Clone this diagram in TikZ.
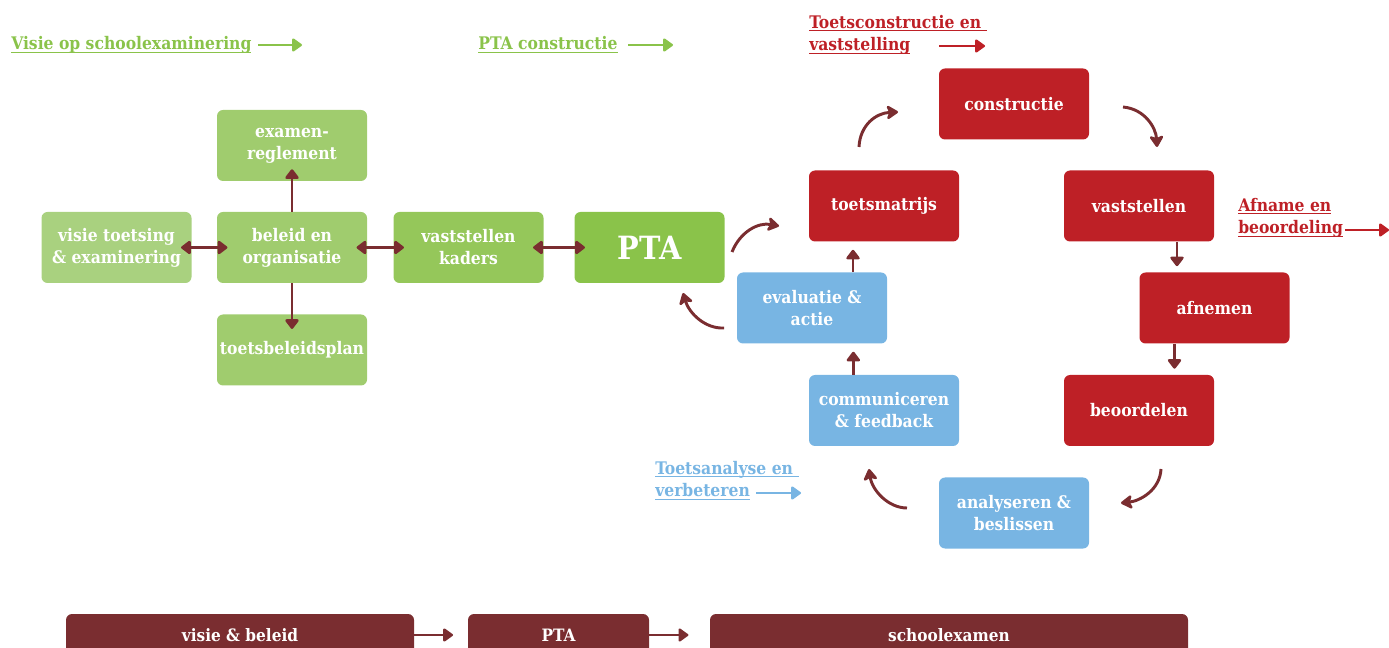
\documentclass[tikz,border=0pt]{standalone}
\usepackage{fontspec}
\setmainfont{DejaVu Serif Condensed}
\usetikzlibrary{arrows.meta,calc}
\definecolor{gV}{HTML}{A9D17F}
\definecolor{gB}{HTML}{A0CC6E}
\definecolor{gK}{HTML}{95C75A}
\definecolor{gP}{HTML}{8AC34A}
\definecolor{rC}{HTML}{BE2026}
\definecolor{bC}{HTML}{78B5E3}
\definecolor{dR}{HTML}{7A2D30}
\newcommand\ulin[1]{\underline{\smash{#1}}}
\begin{document}
\begin{tikzpicture}[x=0.75pt,y=-0.75pt,
  box/.style={rounded corners=4.5pt, minimum width=112.5pt, minimum height=53.25pt,
    text=white, font=\bfseries\fontsize{13}{16.5}\selectfont, align=center, inner sep=0pt},
  gboxV/.style={box, fill=gV},
  gboxB/.style={box, fill=gB},
  gboxK/.style={box, fill=gK},
  gboxP/.style={box, fill=gP, font=\bfseries\fontsize{24}{28}\selectfont},
  rbox/.style={box, fill=rC},
  bbox/.style={box, fill=bC},
  bar/.style={rounded corners=4.5pt, minimum height=31.5pt, fill=dR, text=white,
    font=\bfseries\fontsize{12.8}{14}\selectfont, inner sep=0pt},
  conn/.style={draw=dR, line width=2.2pt, -{Triangle[length=8pt,width=11.5pt,round]}},
  dconn/.style={draw=dR, line width=2.2pt, {Triangle[length=8pt,width=11.5pt,round]}-{Triangle[length=8pt,width=11.5pt,round]}},
  carr/.style={draw=dR, line width=2.2pt, -{Stealth[length=10pt,width=12.5pt,inset=2.5pt,round]}},
  barr/.style={draw=dR, line width=1.6pt, -{Triangle[length=8pt,width=11pt,round]}},
  lbl/.style={font=\bfseries\fontsize{13}{17}\selectfont, align=left, inner sep=0pt, anchor=base west},
  larr/.style={line width=1.6pt, -{Triangle[length=8pt,width=11pt,round]}}
]
\useasboundingbox (0,0) rectangle (1389,648);

% green part
\node[gboxV] (visie) at (116.5,247.5) {visie toetsing\\\& examinering};
\node[gboxB] (examen) at (292,145.5) {examen-\\reglement};
\node[gboxB] (beleid) at (292,247.5) {beleid en\\organisatie};
\node[gboxB] (tbp) at (292,350) {toetsbeleidsplan};
\node[gboxK] (kaders) at (468.5,247.5) {vaststellen\\kaders};
\node[gboxP] (pta) at (649.5,247.5) {PTA};

% red part
\node[rbox] (matrijs) at (884,206) {toetsmatrijs};
\node[rbox] (constr) at (1014,104) {constructie};
\node[rbox] (vastst) at (1139,206) {vaststellen};
\node[rbox] (afnemen) at (1214.5,308) {afnemen};
\node[rbox] (beoord) at (1139,410.5) {beoordelen};

% blue part
\node[bbox] (eval) at (812,308) {evaluatie \&\\actie};
\node[bbox] (comm) at (884,410.5) {communiceren\\\& feedback};
\node[bbox] (anal) at (1014,513) {analyseren \&\\beslissen};

% straight connectors
\draw[dconn, shorten <=-8pt, shorten >=-8pt] (visie) -- (beleid);
\draw[dconn, shorten <=-8pt, shorten >=-8pt] (beleid) -- (kaders);
\draw[dconn, shorten <=-8pt, shorten >=-8pt] (kaders) -- (pta);
\draw[conn, shorten >=-9pt] (beleid.north) -- (examen.south);
\draw[conn, shorten >=-11pt] (beleid.south) -- (tbp.north);
\draw[conn, shorten >=4.5pt] ([xshift=28.5pt]vastst.south) -- ([xshift=28.5pt]vastst.south |- afnemen.north);
\draw[conn, shorten >=4.5pt] ([xshift=-30pt]afnemen.south) -- ([xshift=-30pt]afnemen.south |- beoord.north);
\draw[conn, shorten >=6pt] ([xshift=-23pt]comm.north) -- ([xshift=-23pt]comm.north |- eval.south);
\draw[conn, shorten >=6pt] ([xshift=30.75pt]eval.north) -- ([xshift=30.75pt]eval.north |- matrijs.south);

% curved connectors
\coordinate (p1s) at (732,252); \coordinate (p1e) at (779,226);
\coordinate (p2s) at (859,147); \coordinate (p2e) at (898,112);
\coordinate (p3s) at (1123,107); \coordinate (p3e) at (1157,147);
\coordinate (p4s) at (1161,469); \coordinate (p4e) at (1121,503);
\coordinate (p5s) at (907,508); \coordinate (p5e) at (869,469);
\coordinate (p6s) at (724,328); \coordinate (p6e) at (683,293);
\draw[carr] (p1s) .. controls (740,232) and (758,222) .. (p1e);
\draw[carr] (p2s) .. controls (860,125) and (876,113) .. (p2e);
\draw[carr] (p3s) .. controls (1145,109) and (1156,128) .. (p3e);
\draw[carr] (p4s) .. controls (1160,490) and (1140,501) .. (p4e);
\draw[carr] (p5s) .. controls (888,508) and (872,490) .. (p5e);
\draw[carr] (p6s) .. controls (705,329) and (689,313) .. (p6e);

% labels
\node[lbl, text=gP] (l1) at (11,50) {\ulin{Visie op schoolexaminering}};
\coordinate (l1a) at (258,45); \coordinate (l1b) at (302,45);
\draw[larr, draw=gP, fill=gP] (l1a) -- (l1b);
\node[lbl, text=gP] (l2) at (478,50) {\ulin{PTA constructie}};
\coordinate (l2a) at (628,45); \coordinate (l2b) at (673,45);
\draw[larr, draw=gP, fill=gP] (l2a) -- (l2b);
\node[lbl, text=rC] (l3) at (809,51) {\ulin{Toetsconstructie en\ }\\\ulin{vaststelling}};
\coordinate (l3a) at (939,46); \coordinate (l3b) at (985,46);
\draw[larr, draw=rC, fill=rC] (l3a) -- (l3b);
\node[lbl, text=rC] (l4) at (1238,234) {\ulin{Afname en}\\\ulin{beoordeling}};
\coordinate (l4a) at (1345,230); \coordinate (l4b) at (1389,230);
\draw[larr, draw=rC, fill=rC] (l4a) -- (l4b);
\node[lbl, text=bC] (l5) at (655,497) {\ulin{Toetsanalyse en\ }\\\ulin{verbeteren}};
\coordinate (l5a) at (756,493); \coordinate (l5b) at (801,493);
\draw[larr, draw=bC, fill=bC] (l5a) -- (l5b);

% bottom bars
\node[bar, minimum width=261pt] (b1) at (240,635) {visie \& beleid};
\node[bar, minimum width=135.75pt] (b2) at (558.5,635) {PTA};
\node[bar, minimum width=358.5pt] (b3) at (949,635) {schoolexamen};
\draw[barr, shorten >=11pt] (b1) -- (b2);
\draw[barr, shorten >=16pt] (b2) -- (b3);
\end{tikzpicture}
\end{document}
